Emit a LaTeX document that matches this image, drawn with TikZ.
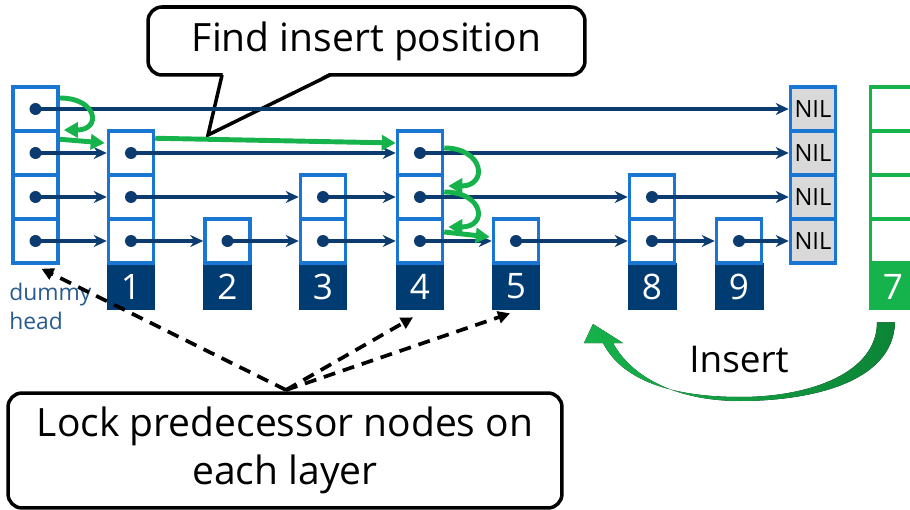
\documentclass[tikz,border=0pt]{standalone}
\usepackage{fontspec}
\setmainfont{Open Sans}
\usepackage{xcolor}
\usepackage{tikz}
\usetikzlibrary{positioning, arrows.meta, calc}
\definecolor{sCell}{HTML}{1976D2}
\definecolor{sNavy}{HTML}{003C71}
\definecolor{sLink}{HTML}{0B3B6F}
\definecolor{sGreen}{HTML}{16B24B}
\definecolor{sGreenDk}{HTML}{0C8436}
\definecolor{sNil}{HTML}{D9D9D9}
\definecolor{sHead}{HTML}{2A5B8E}

\begin{document}
\begin{tikzpicture}[x=0.02cm, y=-0.02cm,
  cell/.style={draw=sCell, fill=white, line width=2pt, minimum width=0.9cm, minimum height=0.88cm, inner sep=0pt},
  numbox/.style={fill=sNavy, text=white, minimum width=0.98cm, minimum height=0.94cm, inner sep=0pt, font=\fontsize{20}{20}\selectfont},
  link/.style={draw=sLink, line width=1.9pt, -{Stealth[length=0.26cm, width=0.24cm]}},
  search/.style={draw=sGreen, line width=2.8pt, -{Triangle[length=0.28cm, width=0.3cm]}},
  bubble/.style={draw=black, fill=white, line width=2pt, rounded corners=0.28cm, outer sep=0pt},
  lockarrow/.style={draw=black, line width=2.1pt, dash pattern=on 0.24cm off 0.16cm, -{Triangle[length=0.24cm, width=0.24cm]}}]
  \useasboundingbox (0,0) rectangle (910,510);

  % callout on top
  \node[bubble, minimum width=8.74cm, minimum height=1.36cm, font=\fontsize{22.2}{24}\selectfont] (find) at (366.5,41) {Find insert position};
  \coordinate (findtip) at (208,135);
  \fill[white] ($(find.south west)+(75,-2)$) -- (findtip) -- ($(find.south west)+(181,-2)$) -- cycle;
  \draw[line width=2pt, line join=miter] ($(find.south west)+(74,0)$) -- (findtip) -- ($(find.south west)+(182,0)$);

  % dummy head and NIL column
  \foreach \l in {1,...,4} {
    \node[cell] (hd-\l) at (35.5,{285-44*\l}) {};
    \fill[sLink] (hd-\l.center) circle[radius=0.12cm];
    \node[cell, fill=sNil, font=\fontsize{13.5}{13.5}\selectfont] (nil-\l) at (813,{285-44*\l}) {NIL};
    \node[cell, draw=sGreen] (g7-\l) at (893,{285-44*\l}) {};
  }
  \node[numbox, fill=sGreen] (g7) at (893,286.5) {7};
  \node[font=\fontsize{13}{16.4}\selectfont, text=sHead, align=left, anchor=north west, inner sep=0pt] (hdlabel) at (9,283) {dummy\\head};

  % list nodes: value / x / levels
  \foreach \val/\x/\h in {1/131/3, 2/227.5/1, 3/323/2, 4/420/3, 5/516/1, 8/652/2, 9/739/1} {
    \node[numbox] (k\val) at (\x,286.5) {\val};
    \foreach \l in {1,...,\h} {
      \node[cell] (k\val-\l) at (\x,{285-44*\l}) {};
      \fill[sLink] (k\val-\l.center) circle[radius=0.12cm];
    }
  }

  % forward pointers
  \foreach \a/\b/\l in {hd/nil/4, hd/k1/3, k1/k4/3, k4/nil/3, hd/k1/2, k1/k3/2, k3/k4/2, k4/k8/2, k8/nil/2,
      hd/k1/1, k1/k2/1, k2/k3/1, k3/k4/1, k4/k5/1, k5/k8/1, k8/k9/1, k9/nil/1}
    \draw[link] (\a-\l.center) -- (\b-\l.west);

  % search path
  \draw[search] ($(hd-4.east)+(0,-11)$) .. controls +(38,0) and +(38,0) .. ($(hd-3.east)+(4,-23)$);
  \draw[search] ($(hd-3.north east)+(0,10)$) -- ($(k1-3.west)+(-2,-10)$);
  \draw[search] ($(k1-3.north east)+(0,9)$) -- ($(k4-3.west)+(0,-10)$);
  \draw[search] ($(k4-3.east)+(0,-5)$) .. controls +(40,0) and +(40,0) .. ($(k4-2.east)+(4,-11)$);
  \draw[search] ($(k4-2.east)+(0,-5)$) .. controls +(40,0) and +(40,0) .. ($(k4-1.east)+(4,-14)$);
  \draw[search] ($(k4-1.east)+(0,-9)$) -- ($(k5-1.west)+(-2,-4)$);

  % locking
  \node[bubble, minimum width=11.08cm, minimum height=2.3cm, align=center, font=\fontsize{22.2}{27.4}\selectfont] (lock) at (285,450.5) {Lock predecessor nodes on\\each layer};
  \draw[lockarrow] ($(lock.north)+(1,-3)$) -- ($(hd-1.south)+(6,4)$);
  \draw[lockarrow] ($(lock.north)+(1,-3)$) -- ($(k4.south)+(-7,7)$);
  \draw[lockarrow] ($(lock.north)+(1,-3)$) -- ($(k5.south)+(-6,3)$);

  % insert
  \coordinate (slot) at (593,324);
  \fill[left color=sGreen, right color=sGreenDk]
    ($(g7.south)+(-16,12)$) -- ($(g7.south)+(2,12)$)
    .. controls (893,385) and (805,401) .. (740,401)
    .. controls (678,401) and (632,378) .. (613,343)
    -- (623,343) -- (slot) -- (584,343) -- (603,343)
    .. controls (624,384) and (680,397) .. (740,397)
    .. controls (812,397) and (877,372) .. ($(g7.south)+(-16,12)$) -- cycle;
  \node[font=\fontsize{21}{24}\selectfont] (ins) at (739,360) {Insert};
\end{tikzpicture}
\end{document}
